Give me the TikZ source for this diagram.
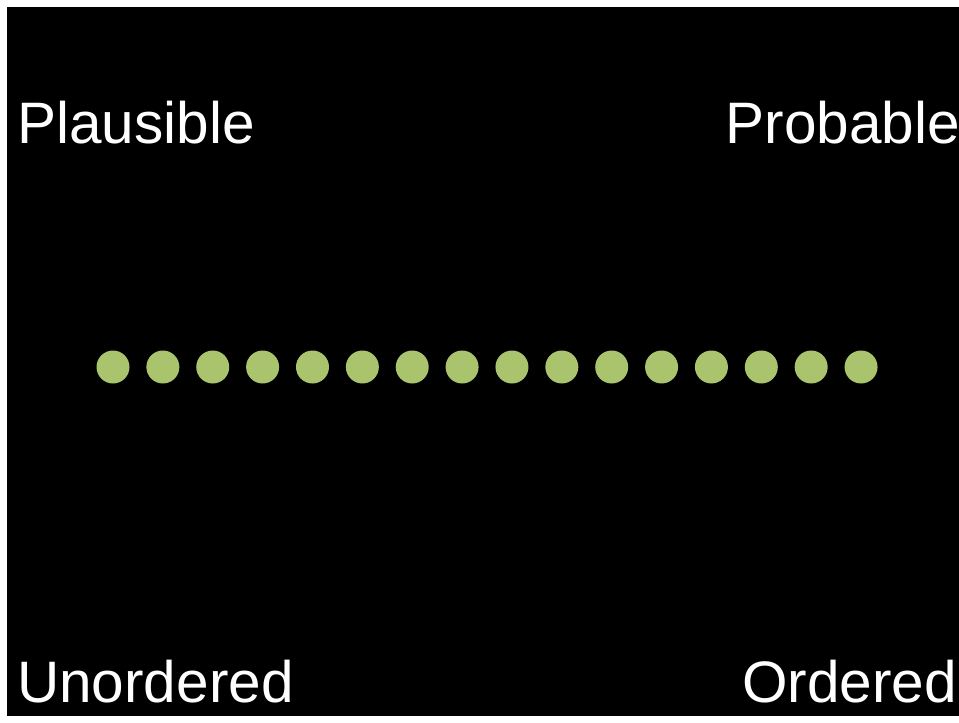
\documentclass[tikz,border=0pt]{standalone}
\usepackage{fontspec}
\setmainfont{Liberation Sans}
\definecolor{dotgreen}{HTML}{A9C46C}
\begin{document}
\begin{tikzpicture}[x=1pt,y=-1pt,
  lbl/.style={text=white,inner sep=0pt,font=\fontsize{58.5}{60}\selectfont},
  dot/.style={circle,fill=dotgreen,minimum size=33pt,inner sep=0pt}]
\useasboundingbox[fill=white] (0,0) rectangle (959,723);
\fill[black] (7,7) rectangle (959,716);
\node[lbl,anchor=base west] (plaus) at (17,143) {Plausible};
\node[lbl,anchor=base east] (prob) at (960,143) {Probable};
\node[lbl,anchor=base west] (unord) at (17,702) {Unordered};
\node[lbl,anchor=base east] (ord) at (957,702) {Ordered};
\foreach \i in {0,...,15}{
  \node[dot] (d\i) at ({113+\i*49.87},367) {};
}
\end{tikzpicture}
\end{document}
